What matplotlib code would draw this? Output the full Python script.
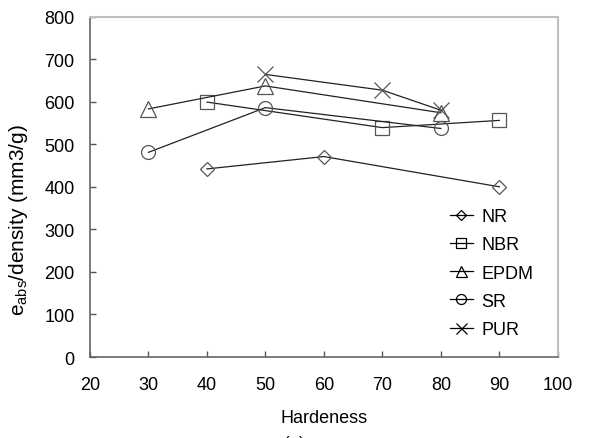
import matplotlib.pyplot as plt

plt.rcParams['font.family'] = ['Liberation Sans', 'DejaVu Sans']
plt.rcParams['mathtext.default'] = 'regular'

# Hardness vs absorbed energy per density for each rubber type
nr_x = [40, 60, 90]
nr_y = [442, 471, 400]
nbr_x = [40, 70, 90]
nbr_y = [599, 539, 556]
epdm_x = [30, 50, 80]
epdm_y = [583, 637, 574]
sr_x = [30, 50, 80]
sr_y = [481, 586, 537]
pur_x = [50, 70, 80]
pur_y = [664, 627, 580]

series = [
    ("NR", nr_x, nr_y, "D", 7.5),
    ("NBR", nbr_x, nbr_y, "s", 10),
    ("EPDM", epdm_x, epdm_y, "^", 11),
    ("SR", sr_x, sr_y, "o", 10),
    ("PUR", pur_x, pur_y, "x", 11),
]

fig = plt.figure(figsize=(5.89, 4.39), dpi=100)
ax = fig.add_axes([0.1528, 0.1845, 0.7942, 0.7755])

for name, xs, ys, mk, ms in series:
    ax.plot(xs, ys, color="#222222", linewidth=0.9, marker=mk, markersize=ms,
            markerfacecolor="none", markeredgecolor="#555555",
            markeredgewidth=0.9, label=name)

ax.set_xlim(20, 100)
ax.set_ylim(0, 800)
ax.set_xticks(range(20, 101, 10))
ax.set_yticks(range(0, 801, 100))
ax.tick_params(direction="in", length=4.5, width=1, colors="#555555",
               labelcolor="black", labelsize=13)
ax.tick_params(axis="y", pad=11)
ax.tick_params(axis="x", pad=14)

for side in ("left", "bottom"):
    ax.spines[side].set_color("#666666")
    ax.spines[side].set_linewidth(1.2)
for side in ("top", "right"):
    ax.spines[side].set_color("#c0c0c0")
    ax.spines[side].set_linewidth(1.5)

ax.set_xlabel("Hardeness", fontsize=13, labelpad=11)
ax.set_ylabel("e$_{abs}$/density (mm3/g)", fontsize=15, va="center")
ax.yaxis.set_label_coords(-0.152, 0.405)

leg = ax.legend(loc="upper left", bbox_to_anchor=(0.769, 0.437), frameon=False,
                fontsize=13, handlelength=1.3, handletextpad=0.45,
                labelspacing=0.62, borderaxespad=0, borderpad=0,
                markerscale=0.72)
for h in leg.legend_handles:
    h.set_color("black")
    h.set_markeredgecolor("black")

fig.text(0.5, 0.006, "(a)", ha="center", va="top", fontsize=12)

fig.savefig("out.png", dpi=100)
